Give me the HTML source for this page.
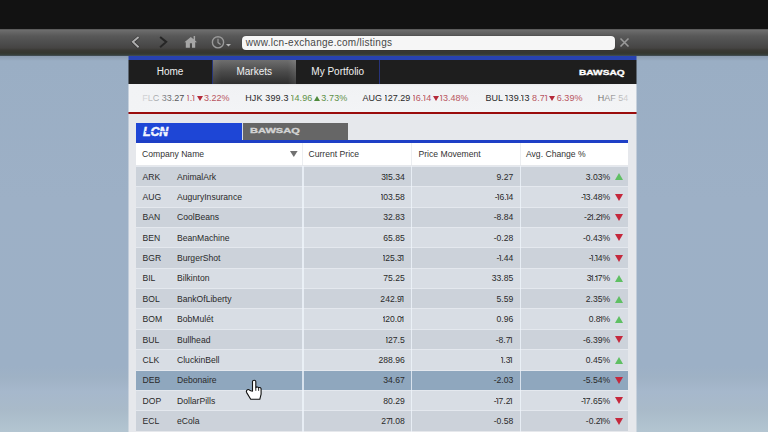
<!DOCTYPE html>
<html><head><meta charset="utf-8">
<style>
*{margin:0;padding:0;box-sizing:border-box}
html,body{width:768px;height:432px;overflow:hidden}
body{position:relative;font-family:"Liberation Sans",sans-serif;background:linear-gradient(#8b9bb0 56px,#9aaec4 61px,#9db0c6 200px,#9cb0c6 366px,#9fb2c5 378px,#a6b8cc 392px,#a9bac9 410px,#b3c5d1 432px)}
.abs{position:absolute}
s{text-decoration:none;margin:0 -0.25px;position:relative}
s::before{content:"";position:absolute;left:-0.3px;top:2.3px;width:1.2px;height:0.9px;background:currentColor;opacity:.8}
#ticker s{margin:0 0.25px}
s.e{margin-right:0.7px}
#top{left:0;top:0;width:768px;height:29px;background:#121212}
#tool{left:0;top:28px;width:768px;height:28px;background:linear-gradient(#131313 0.5px,#5c5c5c 1.5px,#6c6c6c 2.5px,#666 4px,#585858 8px,#4b4b4b 16px,#454443 20px,#3a3935 22px,#34362f 25px,#37403d 27px,#4a5660 28px)}
#url{left:242px;top:35.5px;width:373px;height:14px;background:#f6f6f6;border-radius:4px;box-shadow:0 0 1px rgba(0,0,0,.6)}
#url span{position:absolute;left:3.8px;top:0px;font-size:10px;line-height:14px;color:#474747;letter-spacing:0.28px}
#page{left:128px;top:56px;width:509px;height:376px;background:#e7e9ec}
#bluebar{left:0;top:0;width:509px;height:4px;background:#2742b0}
#nav{left:0;top:4px;width:509px;height:24px;background:#1e1e1e}
.tab{position:absolute;top:0;height:24px;color:#f0f0f0;font-size:10px;line-height:24px;text-align:center}
#mk{background:linear-gradient(90deg,rgba(255,255,255,.08),rgba(255,255,255,0) 10%,rgba(255,255,255,0) 90%,rgba(255,255,255,.1)),linear-gradient(#6e6e6e,#4a4a4a 50%,#2e2e2e)}
#ticker{left:0;top:28px;width:509px;height:28px;background:linear-gradient(#e4e5e7,#f1f2f4 2px,#f3f4f6);overflow:hidden}
#ticker .t{position:absolute;top:0;font-size:9px;line-height:28px;white-space:nowrap;color:#2a2a2a}
.td,.tu{display:inline-block;width:0;height:0;margin:0 1.2px 0 1.5px;border-left:3px solid transparent;border-right:3px solid transparent;vertical-align:0px}
.td{border-top:5px solid #b52a3a}.tu{border-bottom:5px solid #4f8a3c}
.r{color:#b9555f}.g{color:#5e9148}
#redline{left:0;top:56px;width:509px;height:2px;background:#9a0c0c}
#content{left:0;top:58px;width:509px;height:318px;background:#e6e8ec}
#lcn{left:8px;top:67px;width:106px;height:17px;background:#1e46d6}
#baw{left:114px;top:67px;width:106px;height:17px;background:#666;border-left:1px solid #d8dce6}
#tline{left:8px;top:83.5px;width:492px;height:3.5px;background:#1e3fc6}
#hdr{left:8px;top:87px;width:492px;height:21.5px;background:#fff}
.hc{position:absolute;top:0;font-size:8.6px;line-height:22px;color:#333}
.vs{position:absolute;width:1.6px;background:rgba(240,245,252,.75)}
.row{position:absolute;left:8px;width:492px;height:20.4px;font-size:8.6px;color:#2a2a2a;border-top:1px solid #e4e8ee}
.row.d{background:#ccd2da}
.row.l{background:#d8dde4}
.row.h{background:#8fa7be}
.row span{position:absolute;top:0.8px;line-height:19px;white-space:nowrap}
.c1{left:6.5px}.c2{left:41px}
.c3{right:223.3px;text-align:right}
.c4{right:114.7px;text-align:right}
.c5{right:17.8px;text-align:right}
.tri{position:absolute;right:5px;top:6.5px;width:0;height:0;border-left:4.3px solid transparent;border-right:4.3px solid transparent}
.up{border-bottom:7px solid #5fbf63}
.dn{border-top:7px solid #c5283c}
</style></head><body>
<div id="top" class="abs"></div>
<div id="tool" class="abs"></div>
<!-- toolbar icons -->
<svg class="abs" style="left:128px;top:33px" width="110" height="18" viewBox="0 0 110 18">
  <polyline points="10.8,3.8 5,9 10.8,14.4" fill="none" stroke="rgba(0,0,0,.35)" stroke-width="3.2"/>
  <polyline points="10.6,4 4.9,8.9 10.6,14.2" fill="none" stroke="#b0b0b0" stroke-width="1.9"/>
  <polyline points="32.1,4 38.2,8.9 32.1,14.2" fill="none" stroke="#262626" stroke-width="2"/>
  <path d="M56.4,9.2 L62.8,4 L65.6,6.3 L65.6,3.1 L67.1,3.1 L67.1,7.6 L69,9.2 L67.2,9.2 L67.2,14.8 L64,14.8 L64,10.3 L61.9,10.3 L61.9,14.8 L57.8,14.8 L57.8,9.2 Z" fill="#a6a6a6"/>
  <circle cx="90" cy="9.3" r="5.6" fill="none" stroke="#9a9a9a" stroke-width="1.4"/>
  <polyline points="90,5.8 90,9.6 92.6,11.6" fill="none" stroke="#9a9a9a" stroke-width="1.2"/>
  <path d="M97.9,11 L103,11 L100.45,13.6 Z" fill="#b4b4b4"/>
</svg>
<div id="url" class="abs"><span>www.lcn-exchange.com/listings</span></div>
<svg class="abs" style="left:619px;top:37px" width="11" height="11" viewBox="0 0 11 11">
  <path d="M1.5,1.5 L9.5,9.5 M9.5,1.5 L1.5,9.5" stroke="#9a9a9a" stroke-width="1.6"/>
</svg>

<div id="page" class="abs">
  <div id="bluebar" class="abs"></div>
  <div id="nav" class="abs">
    <div class="tab" style="left:0;width:84px">Home</div>
    <div class="abs" style="left:83.5px;top:0;width:1px;height:24px;background:#24347a"></div>
    <div class="tab" id="mk" style="left:84.5px;width:83.5px">Markets</div>
    <div class="tab" style="left:168px;width:83.5px">My Portfolio</div>
    <div class="abs" style="left:251px;top:0;width:1.2px;height:24px;background:#27337c"></div>
    <div class="abs" style="left:450.6px;top:8.2px;font-size:7.8px;font-weight:bold;color:#fff;line-height:10px;transform:scaleX(1.3);transform-origin:0 0;-webkit-text-stroke:0.35px #fff">BAWSAQ</div>
  </div>
  <div id="ticker" class="abs">
    <div class="t" style="left:14.2px">FLC 33.27 <span class="r"><s>I</s>.<s>I</s><i class="td"></i>3.22%</span></div>
    <div class="t" style="left:117.2px;letter-spacing:.15px">HJK 399.3 <span class="g"><s>I</s>4.96<i class="tu"></i>3.73%</span></div>
    <div class="t" style="left:234.6px">AUG <s>I</s>27.29 <span class="r"><s>I</s>6.<s>I</s>4<i class="td"></i><s>I</s>3.48%</span></div>
    <div class="t" style="left:357.4px;letter-spacing:.09px">BUL <s>I</s>39.<s>I</s>3 <span class="r">8.7<s>I</s><i class="td"></i>6.39%</span></div>
    <div class="t" style="left:469.7px">HAF 54</div>
    <div class="abs" style="left:0;top:0;width:66px;height:28px;background:linear-gradient(90deg,rgba(242,243,245,.97),rgba(242,243,245,.8) 30%,rgba(242,243,245,.35) 62%,rgba(242,243,245,0))"></div>
    <div class="abs" style="left:460px;top:0;width:48px;height:28px;background:linear-gradient(90deg,rgba(242,243,245,0),rgba(242,243,245,.5) 40%,rgba(242,243,245,.95))"></div>
  </div>
  <div id="redline" class="abs"></div>
  <div id="content" class="abs"></div>
  <div id="lcn" class="abs"><div class="abs" style="left:7px;top:2.1px;font-size:12.4px;font-weight:bold;font-style:italic;color:#f4f6ff;line-height:15px;letter-spacing:-0.1px;-webkit-text-stroke:0.5px #f4f6ff">LCN</div><div class="abs" style="left:9px;top:7.6px;width:24px;height:0.9px;background:rgba(40,80,220,.7)"></div></div>
  <div id="baw" class="abs"><div class="abs" style="left:7.2px;top:3.8px;font-size:7.8px;font-weight:bold;color:#d4d4d4;line-height:8px;transform:scaleX(1.42);transform-origin:0 0;-webkit-text-stroke:0.35px #d4d4d4">BAWSAQ</div></div>
  <div id="tline" class="abs"></div>
  <div id="hdr" class="abs">
    <div class="hc" style="left:6px">Company Name</div>
    <svg class="abs" style="left:153.9px;top:7.9px" width="8" height="7" viewBox="0 0 8 7"><path d="M0,0 L7.6,0 L3.8,6 Z" fill="#717171"/></svg>
    <div class="hc" style="left:172.5px">Current Price</div>
    <div class="hc" style="left:282.5px">Price Movement</div>
    <div class="hc" style="left:390px">Avg. Change %</div>
    <div class="abs" style="left:166.2px;top:0;width:1.2px;height:21.5px;background:#eceef1"></div>
    <div class="abs" style="left:274.9px;top:0;width:1.2px;height:21.5px;background:#eceef1"></div>
    <div class="abs" style="left:383.6px;top:0;width:1.2px;height:21.5px;background:#eceef1"></div>
  </div>
</div>
<div id="rows" class="abs" style="left:128px;top:0;width:508px;height:432px">
<div class="row d" style="top:165.80px"><span class="c1">ARK</span><span class="c2">AnimalArk</span><span class="c3">3<s>I</s>5.34</span><span class="c4">9.27</span><span class="c5">3.03%</span><i class="tri up"></i></div>
<div class="row l" style="top:186.18px"><span class="c1">AUG</span><span class="c2">AuguryInsurance</span><span class="c3"><s>I</s>03.58</span><span class="c4">-<s>I</s>6.<s>I</s>4</span><span class="c5">-<s>I</s>3.48%</span><i class="tri dn"></i></div>
<div class="row d" style="top:206.56px"><span class="c1">BAN</span><span class="c2">CoolBeans</span><span class="c3">32.83</span><span class="c4">-8.84</span><span class="c5">-2<s>I</s>.2<s>I</s>%</span><i class="tri dn"></i></div>
<div class="row l" style="top:226.94px"><span class="c1">BEN</span><span class="c2">BeanMachine</span><span class="c3">65.85</span><span class="c4">-0.28</span><span class="c5">-0.43%</span><i class="tri dn"></i></div>
<div class="row d" style="top:247.32px"><span class="c1">BGR</span><span class="c2">BurgerShot</span><span class="c3"><s>I</s>25.3<s class="e">I</s></span><span class="c4">-<s>I</s>.44</span><span class="c5">-<s>I</s>.<s>I</s>4%</span><i class="tri dn"></i></div>
<div class="row l" style="top:267.70px"><span class="c1">BIL</span><span class="c2">Bilkinton</span><span class="c3">75.25</span><span class="c4">33.85</span><span class="c5">3<s>I</s>.<s>I</s>7%</span><i class="tri up"></i></div>
<div class="row d" style="top:288.08px"><span class="c1">BOL</span><span class="c2">BankOfLiberty</span><span class="c3">242.9<s class="e">I</s></span><span class="c4">5.59</span><span class="c5">2.35%</span><i class="tri up"></i></div>
<div class="row l" style="top:308.46px"><span class="c1">BOM</span><span class="c2">BobMulét</span><span class="c3"><s>I</s>20.0<s class="e">I</s></span><span class="c4">0.96</span><span class="c5">0.8<s>I</s>%</span><i class="tri up"></i></div>
<div class="row d" style="top:328.84px"><span class="c1">BUL</span><span class="c2">Bullhead</span><span class="c3"><s>I</s>27.5</span><span class="c4">-8.7<s class="e">I</s></span><span class="c5">-6.39%</span><i class="tri dn"></i></div>
<div class="row l" style="top:349.22px"><span class="c1">CLK</span><span class="c2">CluckinBell</span><span class="c3">288.96</span><span class="c4"><s>I</s>.3<s class="e">I</s></span><span class="c5">0.45%</span><i class="tri up"></i></div>
<div class="row h" style="top:369.60px"><span class="c1">DEB</span><span class="c2">Debonaire</span><span class="c3">34.67</span><span class="c4">-2.03</span><span class="c5">-5.54%</span><i class="tri dn"></i></div>
<div class="row l" style="top:389.98px"><span class="c1">DOP</span><span class="c2">DollarPills</span><span class="c3">80.29</span><span class="c4">-<s>I</s>7.2<s class="e">I</s></span><span class="c5">-<s>I</s>7.65%</span><i class="tri dn"></i></div>
<div class="row d" style="top:410.36px"><span class="c1">ECL</span><span class="c2">eCola</span><span class="c3">27<s>I</s>.08</span><span class="c4">-0.58</span><span class="c5">-0.2<s>I</s>%</span><i class="tri dn"></i></div>
<div class="vs" style="left:174.2px;top:166px;height:266px"></div>
<div class="vs" style="left:282.9px;top:166px;height:266px"></div>
<div class="vs" style="left:391.6px;top:166px;height:266px"></div>
</div><!--rows-end-->
<div class="abs" style="left:128px;top:0;width:1px;height:432px;background:linear-gradient(#8b9bb0 56px,#9aaec4 61px,#9db0c6 200px,#9cb0c6 366px,#9fb2c5 378px,#a6b8cc 392px,#a9bac9 410px,#b3c5d1 432px);opacity:.5;clip-path:inset(56px 0 0 0)"></div>
<div class="abs" style="left:636px;top:0;width:1px;height:432px;background:linear-gradient(#8b9bb0 56px,#9aaec4 61px,#9db0c6 200px,#9cb0c6 366px,#9fb2c5 378px,#a6b8cc 392px,#a9bac9 410px,#b3c5d1 432px);opacity:.5;clip-path:inset(56px 0 0 0)"></div>
<svg class="abs" id="cursor" style="left:242px;top:378px" width="24" height="24" viewBox="0 0 24 24">
<path d="M10.5,13.2 L10.5,3.6 Q10.5,2.2 12.15,2.2 Q13.8,2.2 13.8,3.6 L13.8,9.6 Q15.2,8.2 16.6,9.7 Q18.2,8.9 19.1,10.7 L19.1,16.2 L17.8,21.3 L8.7,21.3 L4.7,14.6 Q3.8,12.6 5.4,11.7 Q6.7,11.1 8,12.5 Z" fill="#fff" stroke="#111" stroke-width="1.1" stroke-linejoin="round"/>
<path d="M13.8,9.6 L13.8,12.8 M16.6,9.7 L16.6,12.8" stroke="#111" stroke-width="0.9"/>
</svg>
</body></html>
